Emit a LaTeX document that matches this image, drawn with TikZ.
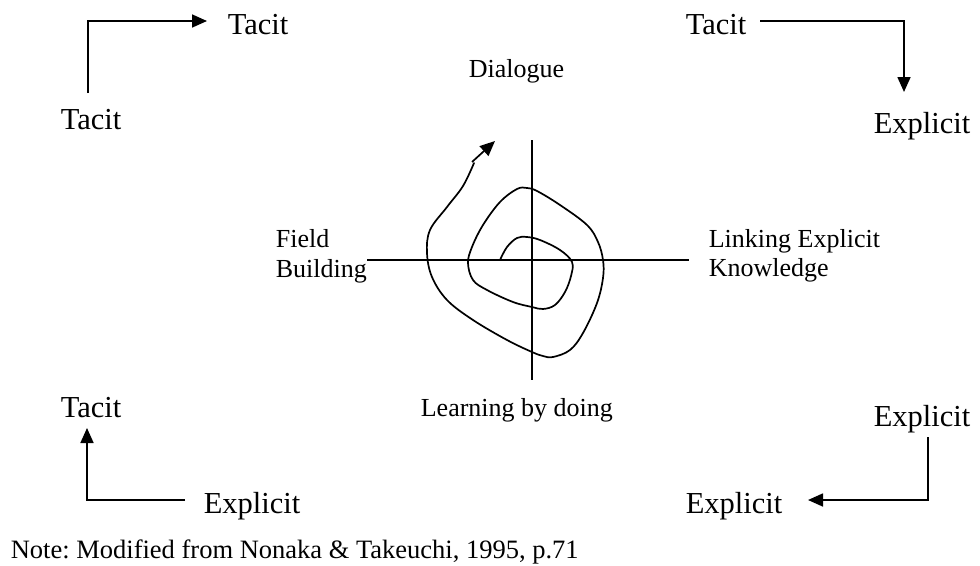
\documentclass[tikz,border=0pt]{standalone}
\usepackage{fontspec}
\setmainfont{Liberation Serif}
\usetikzlibrary{arrows.meta}
\frenchspacing
\begin{document}
\begin{tikzpicture}[x=1pt,y=-1pt, line width=1.7pt,
  big/.style={font=\fontsize{30.5}{36}\selectfont, inner sep=0pt, anchor=base west},
  small/.style={font=\fontsize{26}{30}\selectfont, inner sep=0pt, anchor=base west},
  arr/.style={-{Triangle[length=15pt,width=13pt]}, line width=1.7pt},
  plain/.style={line width=1.7pt, line join=miter}]
\useasboundingbox (0,0) rectangle (980,565);

% corner labels
\node[big] (tlA) at (60,129) {Tacit};
\node[big] (tlB) at (227,34) {Tacit};
\node[big] (trA) at (685,34) {Tacit};
\node[big] (trB) at (873,133) {Explicit};
\node[big] (brA) at (873,426) {Explicit};
\node[big] (brB) at (685,513) {Explicit};
\node[big] (blA) at (203,513) {Explicit};
\node[big] (blB) at (60,417) {Tacit};

% corner connectors
\coordinate (c1s) at (88,93);   \coordinate (c1e) at (207,21);
\coordinate (c2s) at (760,21);  \coordinate (c2e) at (904,92);
\coordinate (c3s) at (928,437); \coordinate (c3e) at (808,500);
\coordinate (c4s) at (185,500); \coordinate (c4e) at (87,428);
\draw[arr] (c1s) |- (c1e);
\draw[arr] (c2s) -| (c2e);
\draw[arr] (c3s) |- (c3e);
\draw[arr] (c4s) -| (c4e);

% central labels
\node[small] (dia) at (468,77) {Dialogue};
\node[small] (fb1) at (275,247) {Field};
\node[small] (fb2) at (275,277) {Building};
\node[small] (le1) at (708,247) {Linking Explicit};
\node[small] (le2) at (708,276) {Knowledge};
\node[small] (lbd) at (420,416) {Learning by doing};

% axes
\coordinate (vt) at (532,140); \coordinate (vb) at (532,380);
\coordinate (hl) at (367,260); \coordinate (hr) at (689,260);
\draw[plain] (vt) -- (vb);
\draw[plain] (hl) -- (hr);

% spiral
\draw[plain, line join=round, line cap=round] plot[smooth, tension=0.6] coordinates {
 (500,260) (507,247) (517,238) (527,237) (540,240) (560,250) (572,262)
 (571,276) (565,292) (555,305) (543,309) (532,307) (513,302) (487,290)
 (473,280) (468,263) (472,247) (483,225) (500,202) (517,189) (527,188)
 (537,191) (560,205) (587,225) (598,242) (603,260) (603,278) (597,303)
 (583,333) (570,350) (553,357) (543,356) (532,352) (507,340) (473,320)
 (447,300) (432,277) (427,253) (430,230) (447,207) (463,186) (474,163)};
\coordinate (sp1) at (472,162);
\coordinate (sp2) at (495,141);
\draw[arr] (sp1) -- (sp2);

% note
\node[small, font=\fontsize{26.5}{30}\selectfont] (note) at (10,558) {Note: Modified from Nonaka \& Takeuchi, 1995, p.71};
\end{tikzpicture}
\end{document}
